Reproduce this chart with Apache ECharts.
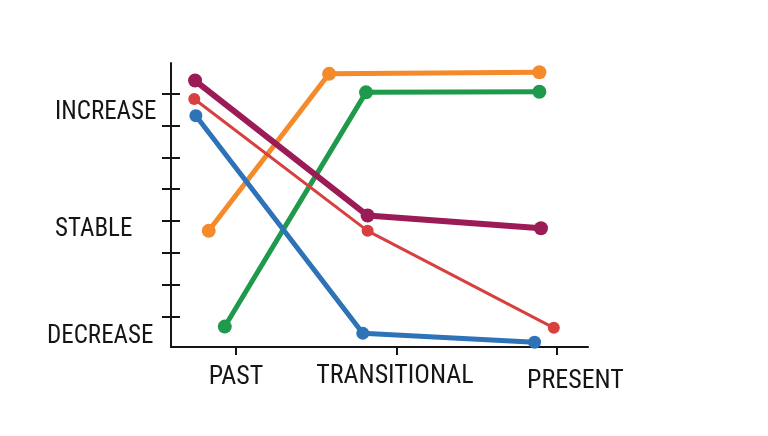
<!DOCTYPE html>
<html>
<head>
<meta charset="utf-8">
<script src="https://cdn.jsdelivr.net/npm/echarts@6/dist/echarts.min.js"></script>
<style>
html,body{margin:0;padding:0;background:#fff;}
#chart{width:768px;height:436px;}
</style>
</head>
<body>
<div id="chart"></div>
<script>
// Category labels and positions on the x scale
const xLabels = ['PAST', 'TRANSITIONAL', 'PRESENT'];
const xLabelPos = [1.0, 1.99, 3.115];
const xTickPos = [1, 2, 3];

// Y labels and positions on the y scale
const yLabels = ['DECREASE', 'STABLE', 'INCREASE'];
const yLabelPos = [0.32, 3.69, 7.35];
const yTickPos = [0.95, 1.95, 2.95, 3.95, 4.95, 5.92, 6.92, 7.95];

// Series values: [x, y]
const purple = [[0.745, 8.35], [1.82, 4.12], [2.90, 3.72]];
const red    = [[0.74, 7.77], [1.82, 3.64], [2.98, 0.60]];
const blue   = [[0.75, 7.25], [1.79, 0.43], [2.86, 0.15]];
const orange = [[0.83, 3.64], [1.58, 8.56], [2.89, 8.61]];
const green  = [[0.93, 0.64], [1.81, 7.98], [2.89, 8.00]];

const FONT = "'Roboto Condensed','Liberation Sans Narrow','DejaVu Sans Condensed',sans-serif";
const ink = '#151515';

function nearestIdx(arr, v) {
  let best = 0;
  for (let i = 1; i < arr.length; i++) if (Math.abs(arr[i] - v) < Math.abs(arr[best] - v)) best = i;
  return best;
}

function mkSeries(name, data, color, lw, sym) {
  return {
    name, type: 'line', data, symbol: 'circle', symbolSize: sym,
    lineStyle: { color, width: lw }, itemStyle: { color },
    animation: false, silent: true
  };
}

const chart = echarts.init(document.getElementById('chart'));
chart.setOption({
  backgroundColor: '#ffffff',
  animation: false,
  grid: { left: 171, top: 63, width: 417, height: 284, containLabel: false },
  xAxis: {
    type: 'value', min: 0.595, max: 3.193,
    splitLine: { show: false },
    axisLine: { show: true, lineStyle: { color: ink, width: 2 } },
    axisTick: { show: true, customValues: xTickPos, length: 8, lineStyle: { color: ink, width: 2 } },
    axisLabel: {
      customValues: xLabelPos, margin: 16, verticalAlign: 'top',
      fontFamily: FONT, fontSize: 26, color: ink,
      formatter: v => {
        const i = nearestIdx(xLabelPos, v);
        return i === 2 ? '{p|' + xLabels[i] + '}' : (i === 0 ? '{q|' + xLabels[i] + '}' : '{n|' + xLabels[i] + '}');
      },
      rich: {
        n: { fontFamily: FONT, fontSize: 26, color: ink },
        q: { fontFamily: FONT, fontSize: 26, color: ink, padding: [1, 0, 0, 0] },
        p: { fontFamily: FONT, fontSize: 26, color: ink, padding: [5, 0, 0, 0] }
      }
    }
  },
  yAxis: [{
    type: 'value', min: 0, max: 8.9, position: 'left',
    splitLine: { show: false },
    axisLine: { show: true, lineStyle: { color: ink, width: 2 } },
    axisTick: { show: true, customValues: yTickPos, length: 9, lineStyle: { color: ink, width: 2 } },
    axisLabel: {
      customValues: yLabelPos, margin: 124, align: 'left',
      fontFamily: FONT, fontSize: 25, color: ink,
      formatter: v => {
        const i = nearestIdx(yLabelPos, v);
        return i === 0 ? '{d|' + yLabels[i] + '}' : '{a|' + yLabels[i] + '}';
      },
      rich: {
        d: { fontFamily: FONT, fontSize: 25, color: ink },
        a: { fontFamily: FONT, fontSize: 25, color: ink, padding: [0, 0, 0, 8] }
      }
    }
  }, {
    type: 'value', min: 0, max: 8.9, position: 'left', offset: 0,
    splitLine: { show: false },
    axisLine: { show: false },
    axisLabel: { show: false },
    axisTick: { show: true, inside: true, customValues: yTickPos, length: 9, lineStyle: { color: ink, width: 2 } }
  }],
  series: [
    mkSeries('green', green, '#1f9a4c', 5, 14),
    mkSeries('orange', orange, '#f48a2a', 5, 14),
    mkSeries('red', red, '#d8403f', 3, 12),
    mkSeries('purple', purple, '#9a1b55', 6, 14),
    mkSeries('blue', blue, '#2e73b8', 5, 13)
  ]
});
</script>
</body>
</html>
